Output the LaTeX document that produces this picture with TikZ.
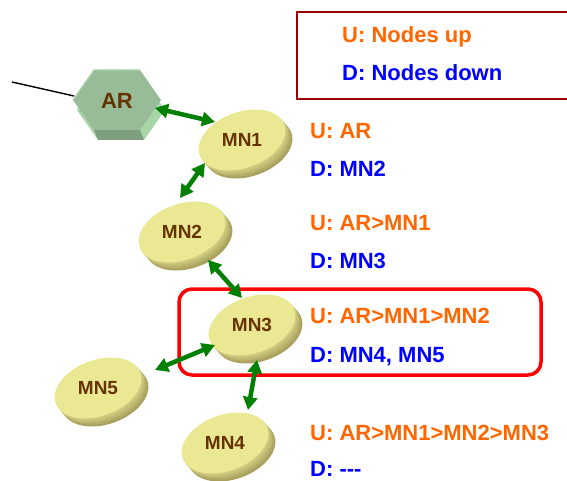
\documentclass[tikz,border=0pt]{standalone}
\usepackage{fontspec}
\setmainfont{Liberation Sans}
\usetikzlibrary{arrows.meta,calc}

\definecolor{upcol}{RGB}{255,102,0}
\definecolor{downcol}{RGB}{0,0,255}
\definecolor{labcol}{RGB}{102,51,0}
\definecolor{linkcol}{RGB}{0,128,0}
\definecolor{keycol}{RGB}{153,0,0}
\definecolor{discface}{RGB}{234,232,146}
\definecolor{discside}{RGB}{216,212,136}
\definecolor{discdark}{RGB}{168,160,92}
\definecolor{hexface}{RGB}{152,188,152}
\definecolor{hexlight}{RGB}{168,214,168}
\definecolor{hexdark}{RGB}{126,160,126}

\begin{document}
\begin{tikzpicture}[x=1pt,y=-1pt,
        hexshape/.style={insert path={(-44,0) -- (-23,-30) -- (23,-30) -- (44,0) -- (23,30) -- (-23,30) -- cycle}},
        mn/.style={text=labcol,inner sep=0pt,font=\fontsize{19}{22}\selectfont\bfseries},
        link/.style={linkcol,line width=4.5pt,{Triangle[length=13pt,width=14pt]}-{Triangle[length=13pt,width=14pt]}},
        up/.style={upcol,anchor=base west,inner sep=0pt,font=\fontsize{22}{26}\selectfont\bfseries},
        down/.style={up,text=downcol}]
        \useasboundingbox (0,0) rectangle (567,481);

        \draw[keycol,line width=2pt] (297,12) rectangle (580,99);
        \node[up] (keyup) at (342,43) {U: Nodes up};
        \node[down] (keydown) at (342,81) {D: Nodes down};

        \coordinate (wire) at (12,82);
        \node[mn,font=\fontsize{22}{26}\selectfont\bfseries] (AR) at (117,101) {};
        \draw[line width=1.4pt] (wire) -- ($(AR)+(-43,-5)$);

        \fill[hexlight,shift={(121,110)},hexshape];
        \fill[hexdark] ($(AR)+(-23,29)$) -- ($(AR)+(23,29)$) -- ($(AR)+(27,39)$) -- ($(AR)+(-19,39)$) -- cycle;
        \fill[hexface,shift={(117,100)},hexshape];
        \draw[hexlight,line width=1.2pt,shift={(117,100)}] (-44,0) -- (-23,-30) -- (23,-30);
        \node[mn,font=\fontsize{22}{26}\selectfont\bfseries] at (AR) {AR};

        \foreach \name/\x/\y in {MN1/242/140, MN2/182/232, MN3/252/325, MN5/98/388, MN4/225/443} {
            \foreach \s in {1,0.8,0.6,0.4,0.2} {
                \pgfmathtruncatemacro{\p}{100*\s}
                \fill[discdark!\p!discside,rotate around={20:(\x+7*\s,\y+8*\s)}] (\x+7*\s,\y+8*\s) ellipse (45 and 28);
            }
            \fill[discface,rotate around={20:(\x,\y)}] (\x,\y) ellipse (45 and 28);
            \node[mn] (\name) at (\x,\y) {\name};
        }

        \draw[red,line width=3.5pt,rounded corners=13pt] (179,289) rectangle (541,375);

        \draw[link] ($(AR)+(38,7)$) -- ($(MN1)+(-27,-18)$);
        \draw[link] ($(MN1)+(-37,23)$) -- ($(MN2)+(-2,-34)$);
        \draw[link] ($(MN2)+(26,28)$) -- ($(MN3)+(-10,-27)$);
        \draw[link] ($(MN3)+(-37,20)$) -- ($(MN5)+(57,-18)$);
        \draw[link] ($(MN3)+(5,35)$) -- ($(MN4)+(23,-33)$);

        \node[up] (up1) at (310,139) {U: AR};
        \node[down] (down1) at (310,177) {D: MN2};
        \node[up] (up2) at (310,230) {U: AR>MN1};
        \node[down] (down2) at (310,268) {D: MN3};
        \node[up] (up3) at (310,323) {U: AR>MN1>MN2};
        \node[down] (down3) at (310,362) {D: MN4, MN5};
        \node[up] (up4) at (310,440) {U: AR>MN1>MN2>MN3};
        \node[down] (down4) at (310,476) {D: -{}-{}-};
    \end{tikzpicture}
\end{document}
